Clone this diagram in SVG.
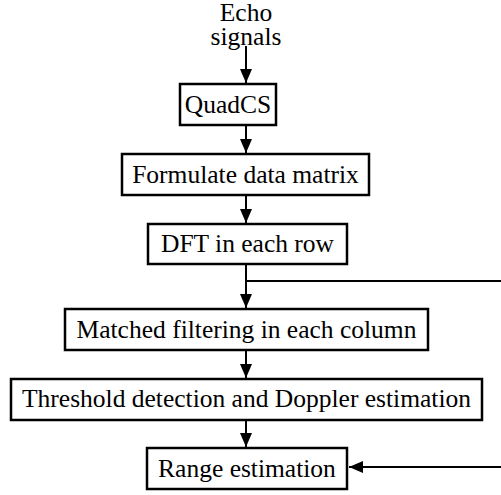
<svg xmlns="http://www.w3.org/2000/svg" width="501" height="495" viewBox="0 0 501 495">
  <style>
    .box { fill: #fff; stroke: #000; stroke-width: 2.5; }
    .lbl { font-family: 'Liberation Serif', Tinos, 'Times New Roman', Times, 'DejaVu Serif', serif; font-size: 25.5px; fill: #000; text-anchor: middle; }
    .wire { fill: none; stroke: #000; stroke-width: 2; }
  </style>
  <defs>
    <marker id="head" viewBox="0 0 14 12" refX="14" refY="6" markerWidth="14" markerHeight="12" markerUnits="userSpaceOnUse" orient="auto">
      <path d="M0,0 L14,6 L0,12 Z" fill="#000"/>
    </marker>
  </defs>

  <rect width="501" height="495" fill="#fff"/>

  <g id="input">
    <text class="lbl" x="246" y="21">Echo</text>
    <text class="lbl" x="246" y="45">signals</text>
  </g>

  <g id="connectors">
    <line class="wire" x1="246" y1="46" x2="246" y2="83" marker-end="url(#head)"/>
    <line class="wire" x1="246" y1="125" x2="246" y2="153" marker-end="url(#head)"/>
    <line class="wire" x1="246" y1="195" x2="246" y2="223" marker-end="url(#head)"/>
    <line class="wire" x1="246" y1="264" x2="246" y2="308" marker-end="url(#head)"/>
    <line class="wire" x1="246" y1="281" x2="501" y2="281"/>
    <line class="wire" x1="246" y1="350" x2="246" y2="378" marker-end="url(#head)"/>
    <line class="wire" x1="246" y1="420" x2="246" y2="447" marker-end="url(#head)"/>
    <line class="wire" x1="501" y1="467" x2="349" y2="467" marker-end="url(#head)"/>
  </g>

  <g id="quadcs">
    <rect class="box" x="180" y="84" width="96" height="41"/>
    <text class="lbl" x="228" y="113">QuadCS</text>
  </g>

  <g id="formulate">
    <rect class="box" x="122" y="154" width="247" height="41"/>
    <text class="lbl" x="245.5" y="183">Formulate data matrix</text>
  </g>

  <g id="dft">
    <rect class="box" x="148" y="224" width="199" height="40"/>
    <text class="lbl" x="247.5" y="252">DFT in each row</text>
  </g>

  <g id="matched">
    <rect class="box" x="65" y="309" width="363" height="41"/>
    <text class="lbl" x="246.5" y="338">Matched filtering in each column</text>
  </g>

  <g id="threshold">
    <rect class="box" x="11" y="379" width="471" height="41"/>
    <text class="lbl" x="246.5" y="407">Threshold detection and Doppler estimation</text>
  </g>

  <g id="range">
    <rect class="box" x="147" y="448" width="200" height="41"/>
    <text class="lbl" x="247" y="477">Range estimation</text>
  </g>
</svg>
